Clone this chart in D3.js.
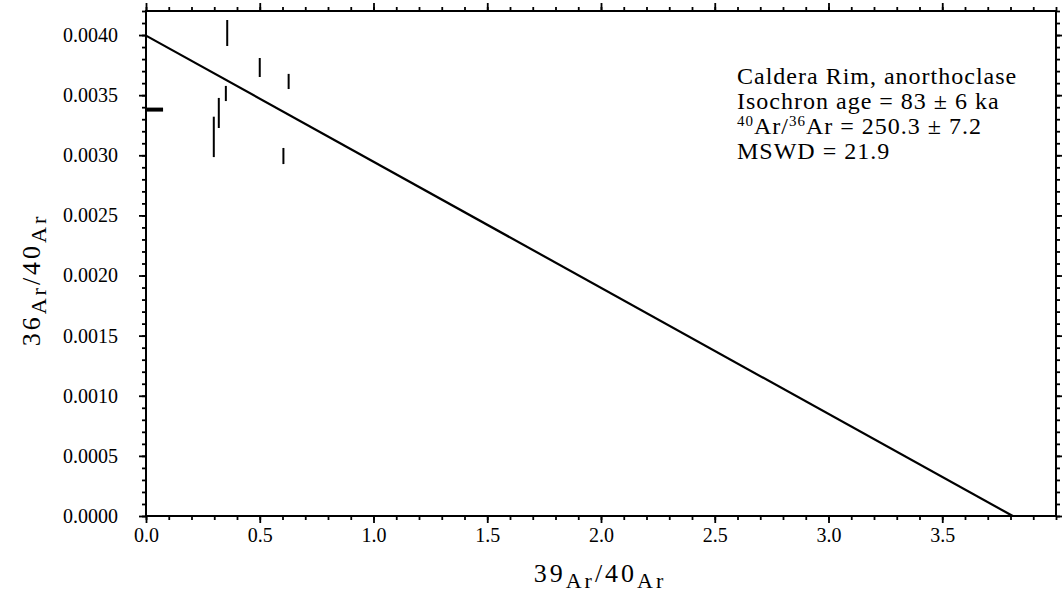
<html>
    <head>
        <script type="text/javascript" src="https://d3js.org/d3.v7.min.js"></script>
        <style>
            body { margin: 0; background: #fff; }
            text { font-family: "Liberation Serif", "DejaVu Serif", serif; fill: #000; }
        </style>
    </head>
    <body>
    </body>

    <script type="text/javascript">
        var w = 1062;
        var h = 597;

        // isochron points (vertical error bars)
        var ptX = [0.357, 0.500, 0.627, 0.351, 0.320, 0.298, 0.604]
        var ptY = [0.004017, 0.003730, 0.003614, 0.003514, 0.003352, 0.003153, 0.002994]
        var ptYErr = [0.000108, 0.000079, 0.000063, 0.000063, 0.000125, 0.000168, 0.000067]

        // atmospheric point near the y axis (horizontal error bar)
        var atmX = [0.037]
        var atmY = [0.00338]
        var atmXErr = [0.038]

        // regression line end points
        var lineX = [0.0, 3.81]
        var lineY = [0.003995, 0.0]

        var xTicks = [0.0, 0.5, 1.0, 1.5, 2.0, 2.5, 3.0, 3.5]
        var yTicks = [0.0000, 0.0005, 0.0010, 0.0015, 0.0020, 0.0025, 0.0030, 0.0035, 0.0040]

        var noteLines = ["Caldera Rim, anorthoclase", "Isochron age = 83 \u00b1 6 ka", "40Ar/36Ar = 250.3 \u00b1 7.2", "MSWD = 21.9"]

        var pLeft = 146, pRight = 1056, pTop = 11, pBottom = 516

        var svg = d3.select('body')
                    .append('svg')
                    .attr('width', w)
                    .attr('height', h)

        var x = d3.scaleLinear().domain([0, 4.0]).range([pLeft, pRight])
        var y = d3.scaleLinear().domain([0, 0.0042]).range([pBottom, pTop])

        var xMinor = d3.range(0, 40.5, 1).map(function(d){ return d / 10 })
        var yMinor = d3.range(0, 42.5, 1).map(function(d){ return d / 10000 })

        function styleAxis(g){
            g.selectAll('.domain').remove()
            g.selectAll('line').attr('stroke', '#000').attr('stroke-width', 1.8)
            g.selectAll('text').attr('font-size', 20).attr('fill', '#000')
        }

        // bottom axis
        svg.append('g').attr('transform', 'translate(0,' + pBottom + ')')
            .call(d3.axisBottom(x).tickValues(xMinor).tickSize(4).tickFormat(''))
            .call(styleAxis)
        svg.append('g').attr('transform', 'translate(0,' + pBottom + ')')
            .call(d3.axisBottom(x).tickValues(xTicks).tickSize(7).tickPadding(5).tickFormat(d3.format('.1f')))
            .call(styleAxis)

        // top axis
        svg.append('g').attr('transform', 'translate(0,' + pTop + ')')
            .call(d3.axisTop(x).tickValues(xMinor).tickSize(4).tickFormat(''))
            .call(styleAxis)
        svg.append('g').attr('transform', 'translate(0,' + pTop + ')')
            .call(d3.axisTop(x).tickValues(xTicks).tickSize(8).tickFormat(''))
            .call(styleAxis)

        // left axis
        svg.append('g').attr('transform', 'translate(' + pLeft + ',0)')
            .call(d3.axisLeft(y).tickValues(yMinor).tickSize(4).tickFormat(''))
            .call(styleAxis)
        svg.append('g').attr('transform', 'translate(' + pLeft + ',0)')
            .call(d3.axisLeft(y).tickValues(yTicks).tickSize(7).tickPadding(21).tickFormat(d3.format('.4f')))
            .call(styleAxis)

        // right axis
        svg.append('g').attr('transform', 'translate(' + pRight + ',0)')
            .call(d3.axisRight(y).tickValues(yMinor).tickSize(4).tickFormat(''))
            .call(styleAxis)
        svg.append('g').attr('transform', 'translate(' + pRight + ',0)')
            .call(d3.axisRight(y).tickValues(yTicks).tickSize(7).tickFormat(''))
            .call(styleAxis)

        // frame
        svg.append('rect')
            .attr('x', pLeft).attr('y', pTop)
            .attr('width', pRight - pLeft).attr('height', pBottom - pTop)
            .attr('fill', 'none').attr('stroke', '#000').attr('stroke-width', 2)

        // isochron line
        svg.append('line')
            .attr('x1', x(lineX[0])).attr('y1', y(lineY[0]))
            .attr('x2', x(lineX[1])).attr('y2', y(lineY[1]))
            .attr('stroke', '#000').attr('stroke-width', 2.2)

        // error bars
        svg.selectAll('.ebar')
            .data(ptX)
            .enter()
            .append('line')
            .attr('class', 'ebar')
            .attr('x1', function(d){ return x(d) })
            .attr('x2', function(d){ return x(d) })
            .attr('y1', function(d, i){ return y(ptY[i] + ptYErr[i]) })
            .attr('y2', function(d, i){ return y(ptY[i] - ptYErr[i]) })
            .attr('stroke', '#000').attr('stroke-width', 2)

        svg.selectAll('.hbar')
            .data(atmX)
            .enter()
            .append('line')
            .attr('class', 'hbar')
            .attr('x1', function(d, i){ return x(Math.max(0, d - atmXErr[i])) })
            .attr('x2', function(d, i){ return x(d + atmXErr[i]) })
            .attr('y1', function(d, i){ return y(atmY[i]) })
            .attr('y2', function(d, i){ return y(atmY[i]) })
            .attr('stroke', '#000').attr('stroke-width', 4)

        // annotation
        var note = svg.append('g').attr('transform', 'translate(737,0)').attr('font-size', 24).attr('letter-spacing', 1)
        note.append('text').attr('x', 0).attr('y', 84).text(noteLines[0])
        note.append('text').attr('x', 0).attr('y', 109).text(noteLines[1])
        var t3 = note.append('text').attr('x', 0).attr('y', 134)
        t3.append('tspan').attr('font-size', 15).attr('dy', -8).text(noteLines[2].slice(0, 2))
        t3.append('tspan').attr('dy', 8).text('Ar/')
        t3.append('tspan').attr('font-size', 15).attr('dy', -8).text(noteLines[2].slice(5, 7))
        t3.append('tspan').attr('dy', 8).text(noteLines[2].slice(7))
        note.append('text').attr('x', 0).attr('y', 159).text(noteLines[3])

        // axis titles
        var xt = svg.append('text')
                    .attr('x', 600).attr('y', 582)
                    .attr('text-anchor', 'middle')
                    .attr('font-size', 26)
                    .attr('letter-spacing', 3)
        xt.append('tspan').text('39')
        xt.append('tspan').attr('font-size', 22).attr('dy', 6).text('Ar')
        xt.append('tspan').attr('dy', -6).text('/40')
        xt.append('tspan').attr('font-size', 22).attr('dy', 6).text('Ar')

        var yt = svg.append('text')
                    .attr('transform', 'translate(40,280) rotate(-90)')
                    .attr('text-anchor', 'middle')
                    .attr('font-size', 26)
                    .attr('letter-spacing', 3)
        yt.append('tspan').text('36')
        yt.append('tspan').attr('font-size', 22).attr('dy', 6).text('Ar')
        yt.append('tspan').attr('dy', -6).text('/40')
        yt.append('tspan').attr('font-size', 22).attr('dy', 6).text('Ar')
    </script>
</html>
